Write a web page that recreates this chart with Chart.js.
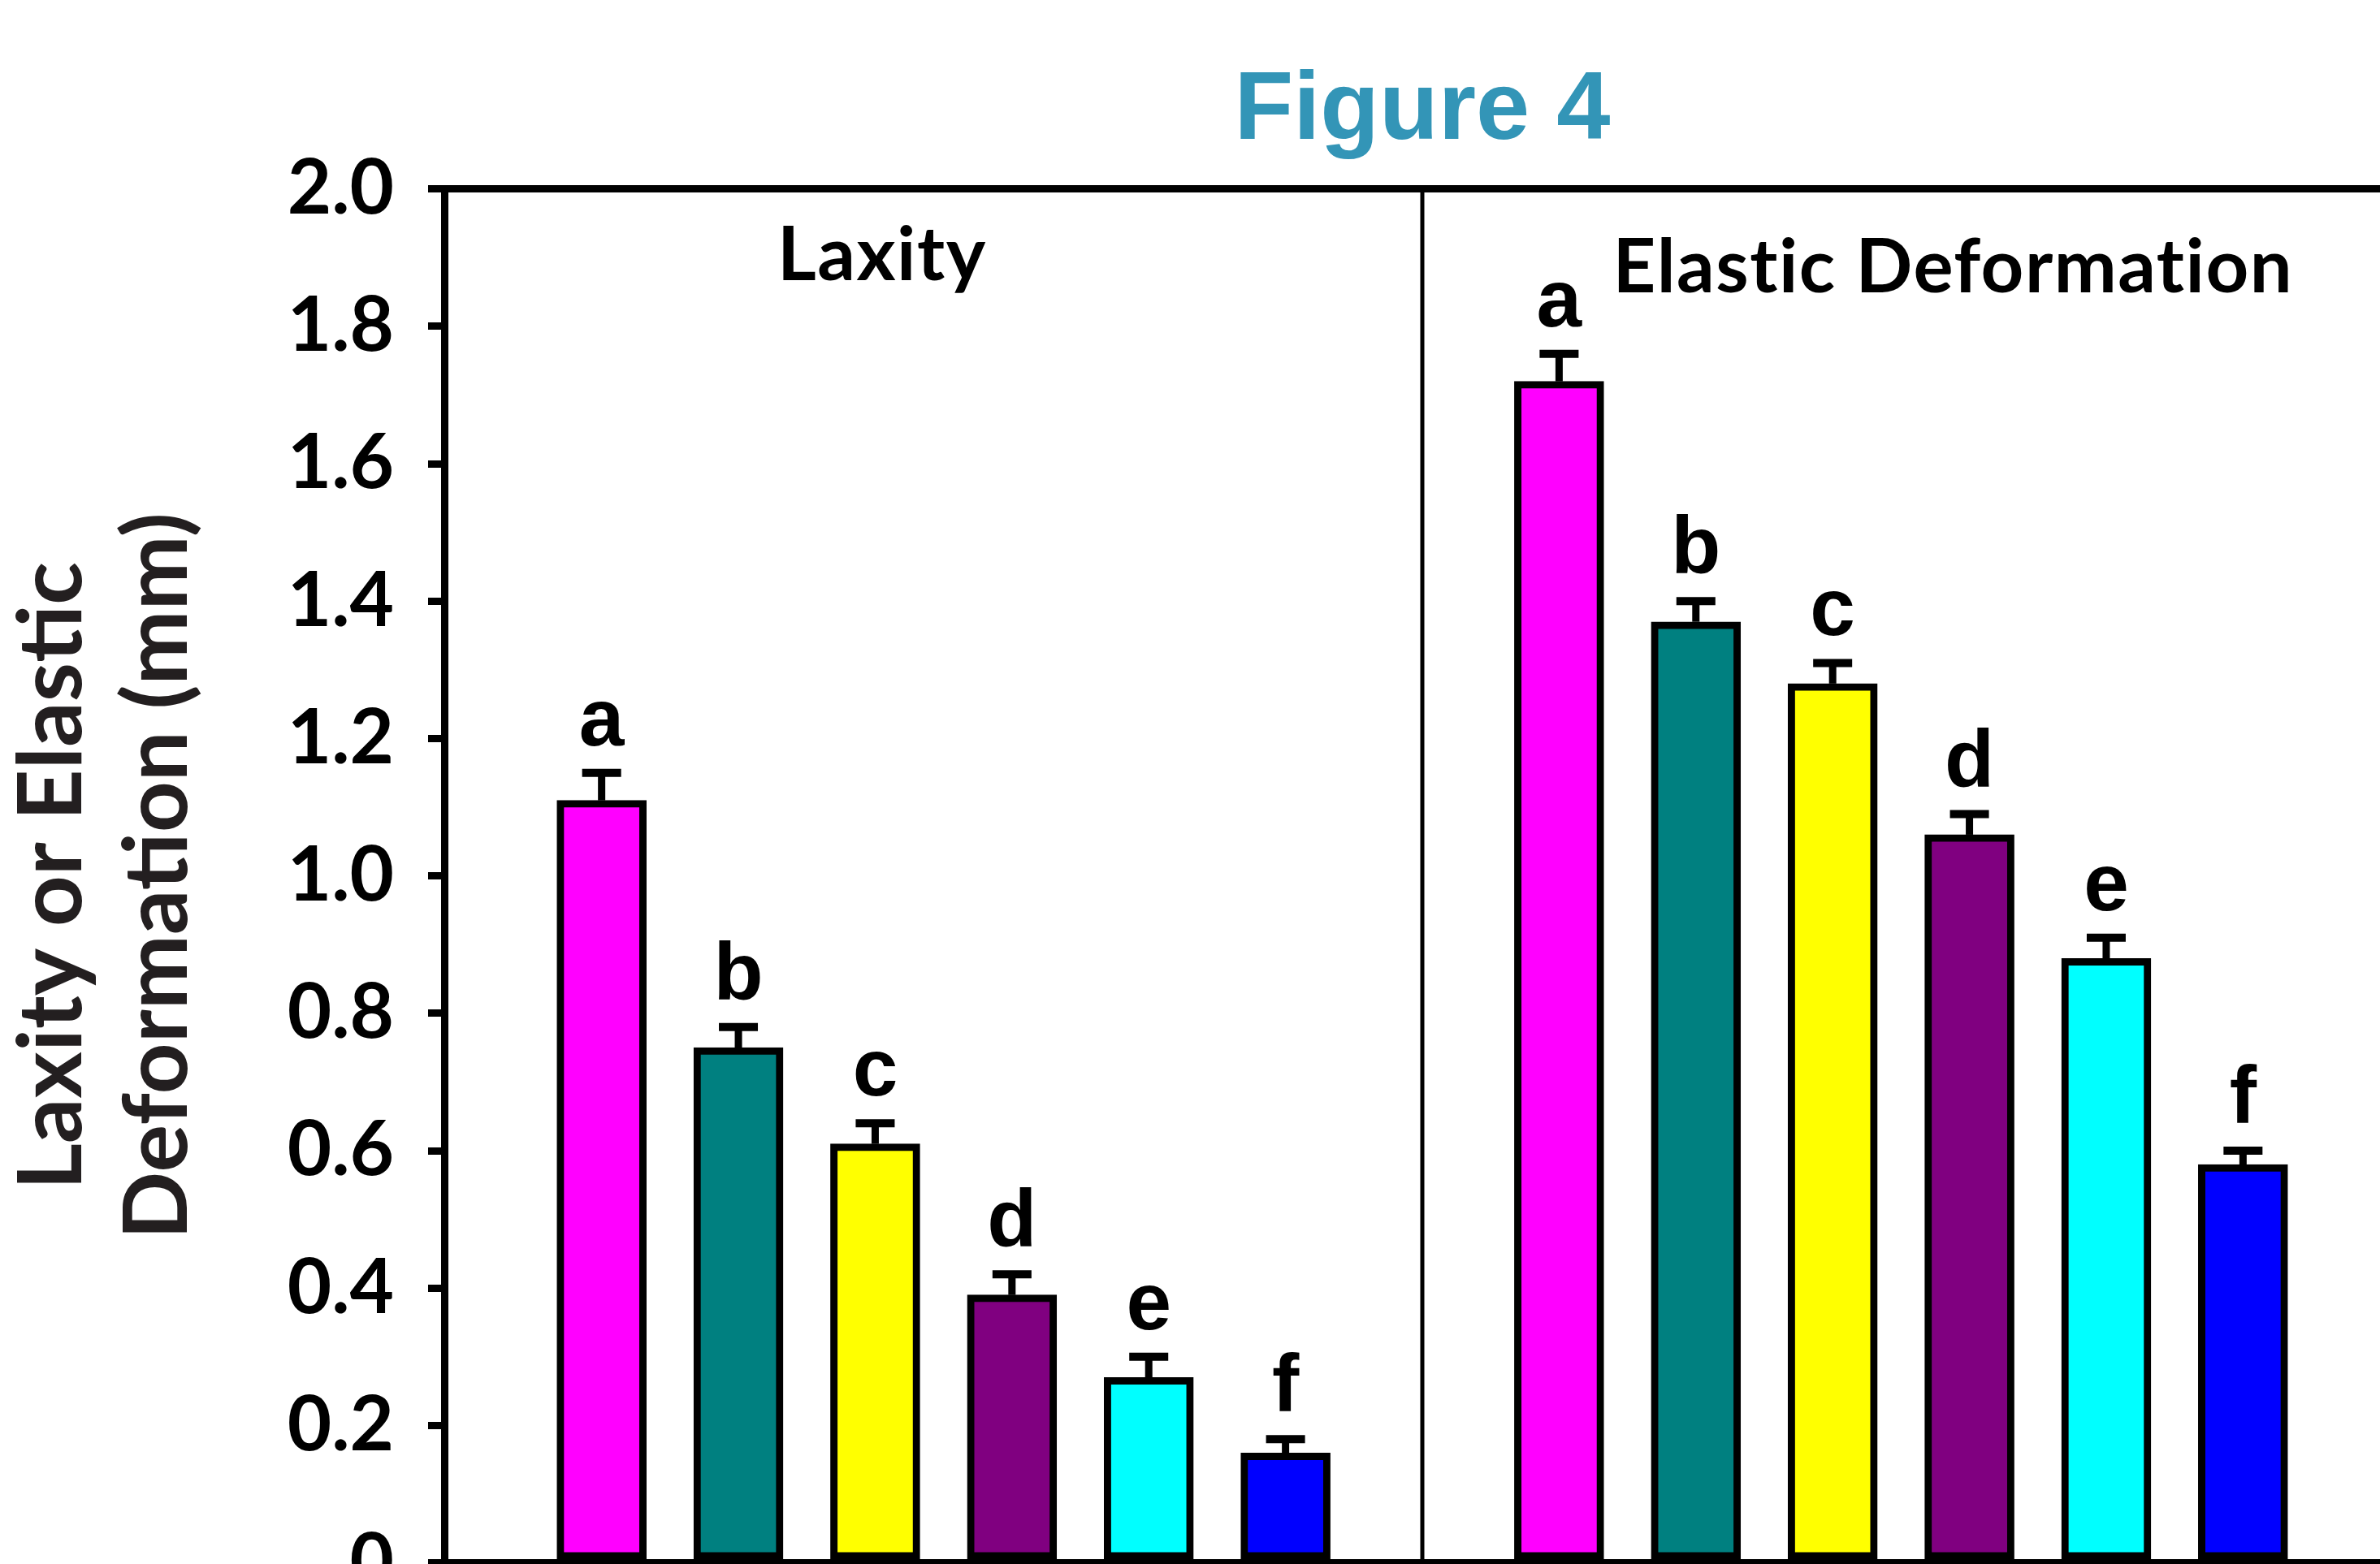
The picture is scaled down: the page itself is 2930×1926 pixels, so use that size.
<!DOCTYPE html>
<html>
<head>
<meta charset="utf-8">
<title>Figure 4</title>
<script src="https://cdn.jsdelivr.net/npm/chart.js@4/dist/chart.umd.min.js"></script>
<style>
  html, body { margin: 0; padding: 0; background: #ffffff; overflow: hidden; }
  #wrap { width: 2990px; height: 2023px; }
</style>
</head>
<body>
<div id="wrap"><canvas id="fig" width="2990" height="2023"></canvas></div>
<script>
// Group letters shown above the bars, one per treatment group
const groups = ['a', 'b', 'c', 'd', 'e', 'f'];
// The two panels of the figure
const panels = ['Laxity', 'Elastic Deformation'];
// Means (mm) and standard errors for each panel
const laxity = [1.11, 0.75, 0.61, 0.39, 0.27, 0.16];
const laxityErr = [0.04, 0.03, 0.03, 0.03, 0.03, 0.02];
const elastic = [1.72, 1.37, 1.28, 1.06, 0.88, 0.58];
const elasticErr = [0.04, 0.03, 0.03, 0.03, 0.03, 0.02];
// Y axis tick labels
const yTickLabels = ['0', '0.2', '0.4', '0.6', '0.8', '1.0', '1.2', '1.4', '1.6', '1.8', '2.0'];

// Fill colours of the six groups
const barColors = ['#FF00FF', '#008080', '#FFFF00', '#800080', '#00FFFF', '#0000FF'];

// Bars sit on evenly spaced slots; one empty slot separates the panels
const slotsPerPanel = groups.length + 1;
const slot = (panel, i) => panel * slotsPerPanel + i + 1;
const dividerAt = slotsPerPanel;

const series = [laxity, elastic];
const errors = [laxityErr, elasticErr];

const datasets = panels.map((name, p) => ({
  label: name,
  data: series[p].map((v, i) => ({ x: slot(p, i), y: v })),
  errors: errors[p],
  backgroundColor: barColors,
  borderColor: '#000000',
  borderWidth: 9,
  borderSkipped: false,
  barThickness: 110,
  grouped: false
}));

const sansBold = '"Liberation Sans", Arial, sans-serif';
const roundBold = 'Lato, "Open Sans", sans-serif';

// Vertical rule between the two panels
const divider = {
  id: 'divider',
  beforeDatasetsDraw(chart, args, opts) {
    const { ctx, chartArea } = chart;
    const x = chart.scales.x.getPixelForValue(dividerAt);
    ctx.save();
    ctx.strokeStyle = '#000000';
    ctx.lineWidth = opts.width;
    ctx.beginPath();
    ctx.moveTo(x, chartArea.top);
    ctx.lineTo(x, chartArea.bottom);
    ctx.stroke();
    ctx.restore();
  }
};

// Error bars (upper half), group letters and panel headings
const annotate = {
  id: 'annotate',
  afterDatasetsDraw(chart, args, opts) {
    const ctx = chart.ctx;
    const ys = chart.scales.y;
    const xs = chart.scales.x;
    ctx.save();
    ctx.strokeStyle = '#000000';
    ctx.fillStyle = '#000000';
    chart.data.datasets.forEach((ds, d) => {
      const meta = chart.getDatasetMeta(d);
      meta.data.forEach((bar, i) => {
        const v = ds.data[i].y;
        const e = ds.errors[i];
        const yTop = ys.getPixelForValue(v);
        const yCap = ys.getPixelForValue(v + e);
        ctx.lineWidth = 9;
        ctx.beginPath();
        ctx.moveTo(bar.x, yTop);
        ctx.lineTo(bar.x, yCap);
        ctx.stroke();
        ctx.lineWidth = 10;
        ctx.beginPath();
        ctx.moveTo(bar.x - opts.capHalf, yCap);
        ctx.lineTo(bar.x + opts.capHalf, yCap);
        ctx.stroke();
        ctx.font = 'bold 100px ' + sansBold;
        ctx.textAlign = 'center';
        ctx.textBaseline = 'alphabetic';
        ctx.fillText(groups[i], bar.x, yCap - opts.letterGap);
      });
    });
    ctx.font = 'bold 92px ' + roundBold;
    ctx.letterSpacing = '1.5px';
    ctx.textAlign = 'center';
    ctx.textBaseline = 'alphabetic';
    panels.forEach((name, p) => {
      const h = opts.headings[p];
      ctx.fillText(name, xs.getPixelForValue(h.x), ys.getPixelForValue(h.y));
    });
    ctx.restore();
  }
};

new Chart(document.getElementById('fig'), {
  type: 'bar',
  data: { datasets },
  plugins: [divider, annotate],
  options: {
    responsive: false,
    animation: false,
    layout: { padding: { left: 0, right: 35, top: 0, bottom: 79 } },
    plugins: {
      legend: { display: false },
      tooltip: { enabled: false },
      title: {
        display: true,
        text: 'Figure 4',
        color: '#3395B7',
        fullSize: false,
        font: { family: sansBold, size: 119, weight: 'bold', lineHeight: 1.2 },
        padding: { top: 67, bottom: 23 }
      },
      divider: { width: 5 },
      annotate: {
        capHalf: 24,
        letterGap: 34,
        headings: [{ x: 3.05, y: 1.867 }, { x: 10.88, y: 1.85 }]
      }
    },
    scales: {
      x: {
        type: 'linear',
        position: 'bottom',
        min: -0.15,
        max: 14.15,
        offset: false,
        ticks: { display: false },
        grid: { display: false, drawTicks: false },
        border: { display: true, color: '#000000', width: 10 }
      },
      xTop: {
        type: 'linear',
        position: 'top',
        min: -0.15,
        max: 14.15,
        ticks: { display: false },
        grid: { display: false, drawTicks: false },
        border: { display: true, color: '#000000', width: 9 }
      },
      y: {
        min: 0,
        max: 2,
        afterFit: (scale) => { scale.width = 547; },
        ticks: {
          stepSize: 0.2,
          color: '#000000',
          padding: 42,
          font: { family: roundBold, size: 94, weight: 'bold' },
          callback: (value, index) => yTickLabels[index]
        },
        grid: { display: true, drawOnChartArea: false, drawTicks: true, tickLength: 20, color: '#000000', lineWidth: 9 },
        border: { display: true, color: '#000000', width: 9 },
        title: {
          display: true,
          text: ['Laxity or Elastic', 'Deformation (mm)'],
          color: '#231F20',
          font: { family: roundBold, size: 110, weight: 'bold', lineHeight: 130 / 110 },
          padding: { top: 0, bottom: 0 }
        }
      }
    }
  }
});
</script>
</body>
</html>
